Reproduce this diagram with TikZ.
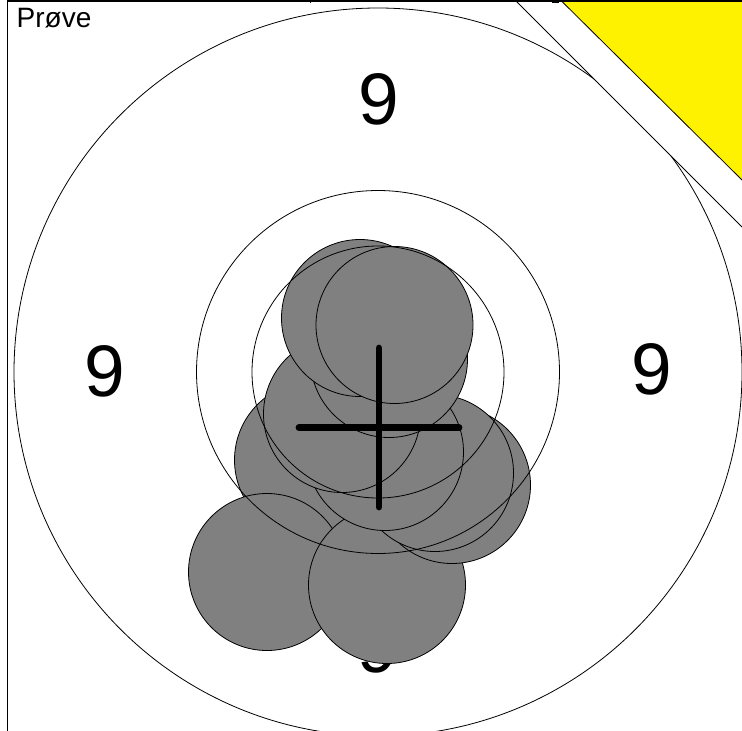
\documentclass[tikz,border=0pt]{standalone}
\usepackage{fontspec}
\setmainfont{Liberation Sans}

\begin{document}
\begin{tikzpicture}[x=1pt,y=-1pt,
  ring/.style={black, line width=0.8pt},
  shot/.style={fill=black!50, draw=black, line width=0.8pt},
  scorenum/.style={font=\fontsize{73}{80}\selectfont, inner sep=0pt},
  crossbar/.style={black, line width=6.8pt, line cap=round}]
\useasboundingbox (0,0) rectangle (742,731);
% frame and corner
\fill[yellow] (562,1.5) -- (742,1.5) -- (742,180) -- cycle;
\draw[line width=0.8pt] (562,1.5) -- (742,180);
\draw[line width=0.8pt] (515,0) -- (742,227);
\draw[line width=1.3pt] (7.5,731) -- (7.5,1) -- (742,1);
\draw[line width=1pt] (310,0) -- (310,3);
\fill[black] (552,0) rectangle (559,2.5);
\node[font=\fontsize{28}{32}\selectfont, inner sep=0pt, anchor=base west] (trial) at (16.5,27) {Prøve};
% outer ring, cut at the corner
\begin{scope}
\clip (0,0) -- (515,0) -- (742,227) -- (742,731) -- (0,731) -- cycle;
\draw[ring] (378,372) circle[radius=364pt];
\end{scope}
\node[scorenum] (ninetop) at (378.7,99.5) {9};
\node[scorenum] (nineleft) at (104.7,371) {9};
\node[scorenum] (nineright) at (651.3,369.5) {9};
\node[scorenum] (ninebottom) at (378,647) {9};
% shots
\draw[shot] (313,460) circle[radius=78.5pt];
\draw[shot] (267,572) circle[radius=78.5pt];
\draw[shot] (387,585) circle[radius=78.5pt];
\draw[shot] (452,485) circle[radius=78.5pt];
\draw[shot] (435,473) circle[radius=78.5pt];
\draw[shot] (385,452) circle[radius=78.5pt];
\draw[shot] (342,414) circle[radius=78.5pt];
\draw[shot] (389,359) circle[radius=78.5pt];
\draw[shot] (360,318) circle[radius=78.5pt];
\draw[shot] (394.5,325) circle[radius=78.5pt];
% inner rings
\draw[ring] (378,372) circle[radius=181.5pt];
\draw[ring] (378,372) circle[radius=126pt];
% mean point of impact
\coordinate (ctop) at (379,348);
\coordinate (cbot) at (379,507);
\coordinate (cleft) at (299,427.7);
\coordinate (cright) at (459,427.7);
\draw[crossbar] (ctop) -- (cbot);
\draw[crossbar] (cleft) -- (cright);
\end{tikzpicture}
\end{document}
